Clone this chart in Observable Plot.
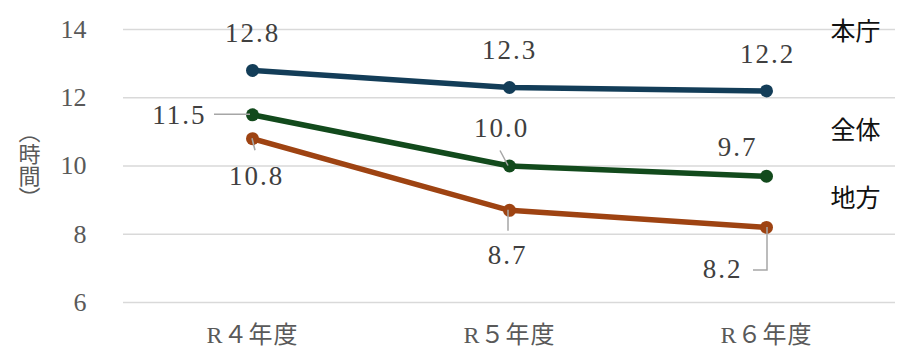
<!DOCTYPE html>
<html lang="ja">
<head>
<meta charset="utf-8">
<script src="https://cdn.jsdelivr.net/npm/d3@7"></script>
<script src="https://cdn.jsdelivr.net/npm/@observablehq/plot@0.6"></script>
<style>
  html, body { margin: 0; padding: 0; background: #fff; }
</style>
</head>
<body>
<div id="chart"></div>
<script>
// Fiscal years (categories)
const years = ["R４年度", "R５年度", "R６年度"];
// Series names
const seriesNames = ["本庁", "全体", "地方"];
// Hours per series, one value per fiscal year
const honcho = [12.8, 12.3, 12.2];
const zentai = [11.5, 10.0, 9.7];
const chiho = [10.8, 8.7, 8.2];
// Y axis ticks
const yTicks = [6, 8, 10, 12, 14];
const yTitle = "（時間）";

const colors = ["#133d58", "#124a1c", "#9e4312"];
const seriesValues = [honcho, zentai, chiho];

const rows = [];
seriesNames.forEach((s, i) => {
  years.forEach((yr, j) => rows.push({series: s, year: yr, value: seriesValues[i][j]}));
});

// Placement of each value label relative to its point (px), with optional leader line
const placement = {
  "本庁|R４年度": {dx: 0, dy: -37, anchor: "middle"},
  "本庁|R５年度": {dx: 0, dy: -37, anchor: "middle"},
  "本庁|R６年度": {dx: 1, dy: -37, anchor: "middle"},
  "全体|R４年度": {dx: -46, dy: 1, anchor: "end", leader: [[-38, 0], [-2, 0]]},
  "全体|R５年度": {dx: -8, dy: -38, anchor: "middle", leader: [[-9, -15], [-1, 0]]},
  "全体|R６年度": {dx: -29, dy: -29, anchor: "middle"},
  "地方|R４年度": {dx: 4, dy: 38, anchor: "middle", leader: [[0, 0], [3, 12]]},
  "地方|R５年度": {dx: -2, dy: 45, anchor: "middle", leader: [[-1, 0], [-1, 21]]},
  "地方|R６年度": {dx: -44, dy: 42, anchor: "middle", leader: [[1, 0], [1, 43], [-13, 43]]}
};

// Series names at the right edge (offset from top of frame, px)
const nameOffsets = [2, 101, 169];

const serif = "Liberation Serif, DejaVu Serif, Noto Sans CJK JP, serif";
const cjk = "Noto Sans CJK JP, sans-serif";

const valueLabels = rows.map(d => {
  const p = placement[`${d.series}|${d.year}`];
  return Plot.text([d], {
    x: "year", y: "value",
    text: r => r.value.toFixed(1),
    dx: p.dx, dy: p.dy, textAnchor: p.anchor, lineAnchor: "middle",
    fontSize: 27, fill: "#404040", fontFamily: serif
  });
});

const nameLabels = seriesNames.map((s, i) => Plot.text([s], {
  frameAnchor: "top-right", dx: -15, dy: nameOffsets[i],
  textAnchor: "end", lineAnchor: "middle",
  fontSize: 25, fill: "#111", fontFamily: cjk
}));

const chart = Plot.plot({
  width: 905,
  height: 351,
  marginLeft: 123,
  marginRight: 10,
  marginTop: 29,
  marginBottom: 49,
  style: {fontFamily: serif, background: "#fff", overflow: "visible"},
  x: {type: "point", domain: years, padding: 0.5, axis: null, label: null},
  y: {domain: [6, 14], axis: null, label: null},
  color: {domain: seriesNames, range: colors},
  marks: [
    Plot.ruleY(yTicks, {stroke: "#d9d9d9", strokeWidth: 1.5}),
    Plot.axisY(yTicks, {tickSize: 0, tickPadding: 37, fontSize: 26, fill: "#595959", label: null, fontFamily: serif}),
    Plot.axisX(years, {tickSize: 0, tickPadding: 23, fontSize: 24, fill: "#595959", label: null, fontFamily: serif}),
    Plot.text([yTitle], {
      frameAnchor: "left", dx: -94, textAnchor: "middle",
      fontSize: 22, fill: "#595959", fontFamily: cjk
    }),
    Plot.line(rows, {x: "year", y: "value", z: "series", stroke: "series", strokeWidth: 5.5, strokeLinejoin: "round", strokeLinecap: "round"}),
    Plot.dot(rows, {x: "year", y: "value", fill: "series", r: 6.5}),
    ...valueLabels,
    ...nameLabels
  ]
});

document.getElementById("chart").appendChild(chart);

const svg = d3.select(chart);

// Vertical axis title, upright characters
svg.selectAll("text")
  .filter(function() { return this.textContent === yTitle; })
  .attr("dy", -8)
  .style("writing-mode", "vertical-rl")
  .style("text-orientation", "mixed")
  .style("font-family", cjk);

// Value labels: serif digits with a little tracking
const valueTexts = new Set(rows.map(d => d.value.toFixed(1)));
svg.selectAll("text")
  .filter(function() { return valueTexts.has(this.textContent); })
  .style("font-family", serif)
  .style("letter-spacing", "2px");

// Fiscal-year tick labels: slight tracking
svg.selectAll("text")
  .filter(function() { return years.includes(this.textContent); })
  .style("letter-spacing", "1px");

// Leader lines from value labels to their points
const sx = chart.scale("x");
const sy = chart.scale("y");
const fx = sx.apply ? v => sx.apply(v)
  : d3.scalePoint(sx.domain, sx.range).padding(sx.padding ?? 0.5).align(sx.align ?? 0.5);
const fy = sy.apply ? v => sy.apply(v) : d3.scaleLinear(sy.domain, sy.range);

const leaderLayer = svg.append("g").attr("aria-label", "leaders");
rows.forEach(d => {
  const p = placement[`${d.series}|${d.year}`];
  if (!p.leader) return;
  const x0 = fx(d.year), y0 = fy(d.value);
  leaderLayer.append("path")
    .attr("d", d3.line()(p.leader.map(([ox, oy]) => [x0 + ox, y0 + oy])))
    .attr("fill", "none")
    .attr("stroke", "#a6a6a6")
    .attr("stroke-width", 1.5);
});
</script>
</body>
</html>
